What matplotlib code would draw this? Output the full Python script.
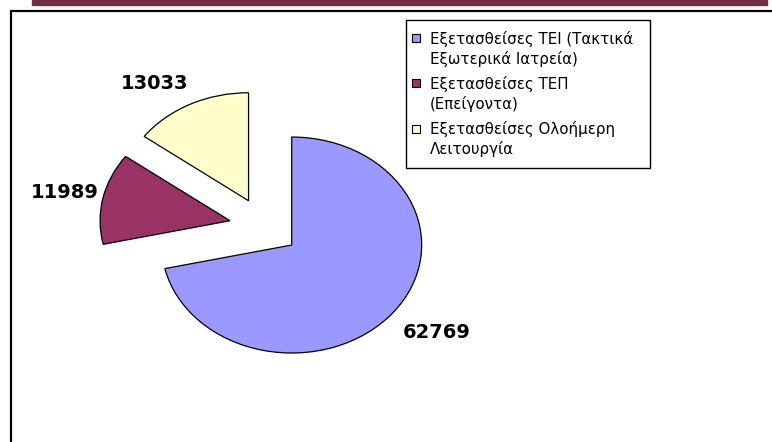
import matplotlib.pyplot as plt
from matplotlib.patches import Rectangle, Wedge
from matplotlib.legend_handler import HandlerPatch

# data
labels = ['Εξετασθείσες ΤΕΙ (Τακτικά\nΕξωτερικά Ιατρεία)',
          'Εξετασθείσες ΤΕΠ\n(Επείγοντα)',
          'Εξετασθείσες Ολοήμερη\nΛειτουργία']
values = [62769, 11989, 13033]
colors = ['#9999FF', '#993366', '#FFFFCC']
total = sum(values)

W, H = 772, 442
fig = plt.figure(figsize=(W / 100, H / 100), dpi=100)

# background: title bar and chart frame, in pixel coords
bg = fig.add_axes([0, 0, 1, 1])
bg.set_xlim(0, W)
bg.set_ylim(H, 0)
bg.axis('off')
bg.add_patch(Rectangle((32, 0), 735, 5, color='#732B4A'))
bg.plot([11, 11, W], [H, 11, 11], color='black', lw=1.6, solid_joinstyle='miter')

# pie axes (stretched so the pie is an ellipse like the original)
ax = fig.add_axes([0.0899, 0.1204, 0.505, 0.733])
wedges, texts, autotexts = ax.pie(
    values, colors=colors, startangle=90, counterclock=False,
    explode=[0.27] * 3,
    wedgeprops=dict(edgecolor='black', linewidth=0.9),
    autopct=lambda p: f'{round(p * total / 100)}', pctdistance=1.3,
    textprops=dict(fontsize=14, fontweight='bold', family='DejaVu Sans'))
ax.set_aspect('auto')
ax.set_xlim(-1.5, 1.5)
ax.set_ylim(-1.5, 1.5)

# small nudges so the value labels sit where Excel put them
nudges = [(0.1, 0.0), (0.0, -0.01), (-0.14, -0.075)]
for t, (dx, dy) in zip(autotexts, nudges):
    x, y = t.get_position()
    t.set_position((x + dx, y + dy))


def square(legend, orig_handle, xdescent, ydescent, width, height, fontsize):
    # marker level with the first line of the label
    return Rectangle((-xdescent - 3.6, -ydescent + 8.6), width, width)


leg = fig.legend(wedges, labels, loc='upper left',
                 bbox_to_anchor=(406 / W, 1 - 164 / H, 244 / W, 144 / H),
                 mode='expand', borderaxespad=0, fancybox=False,
                 edgecolor='black', framealpha=1, fontsize=10.8,
                 handlelength=0.53, handleheight=0.53, handletextpad=0.33,
                 labelspacing=0.6, borderpad=0.73,
                 handler_map={Wedge: HandlerPatch(patch_func=square)})
leg.get_frame().set_linewidth(1)
for t in leg.get_texts():
    t.set_linespacing(1.32)
for h in leg.get_patches():
    h.set_edgecolor('black')
    h.set_linewidth(0.8)

fig.savefig('out.png', dpi=100)
